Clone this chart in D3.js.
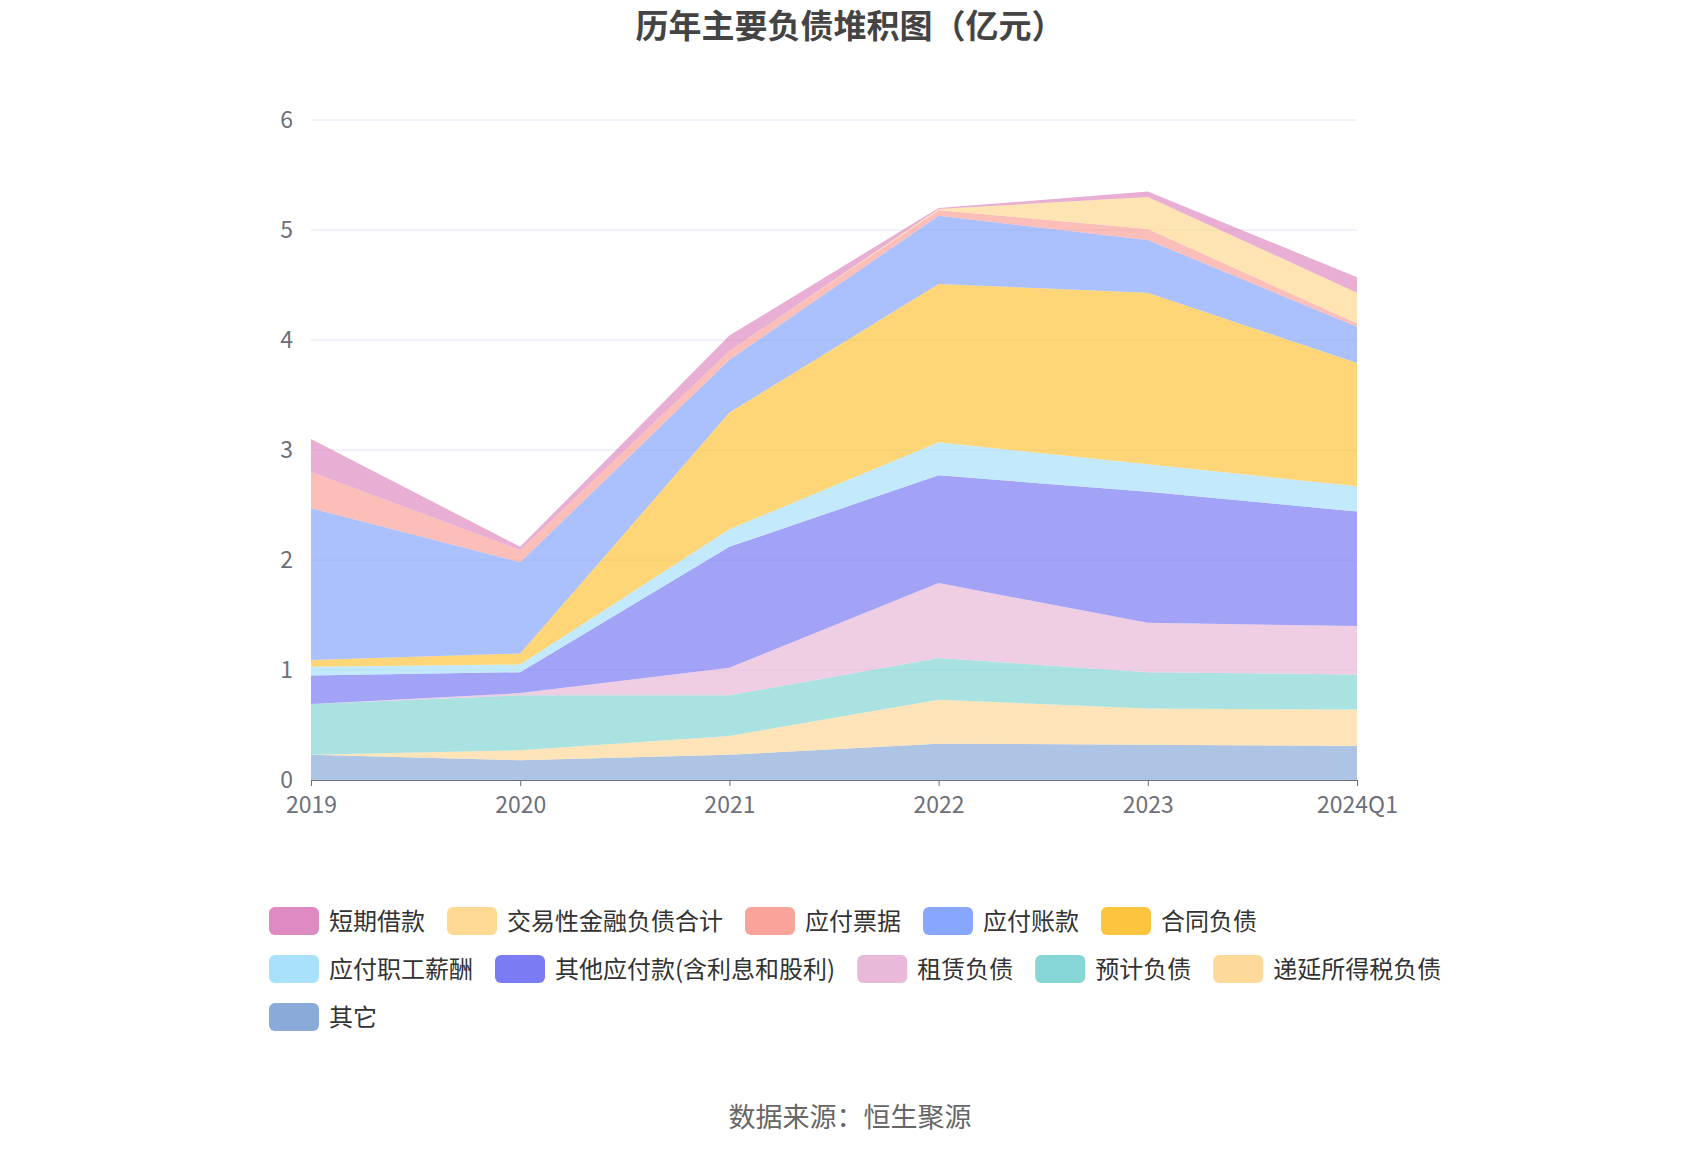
<!DOCTYPE html>
<html><head><meta charset="utf-8">
<script src="https://cdn.jsdelivr.net/npm/d3@7/dist/d3.min.js"></script>
<style>body{margin:0;background:#fff;font-family:"Noto Sans CJK SC","Noto Sans",sans-serif}</style>
</head><body><svg id="c" width="1700" height="1150"></svg>
<script>
const categories=["2019","2020","2021","2022","2023","2024Q1"];
const yTicks=[0,1,2,3,4,5,6];
const seriesNames=["短期借款","交易性金融负债合计","应付票据","应付账款","合同负债","应付职工薪酬","其他应付款(含利息和股利)","租赁负债","预计负债","递延所得税负债","其它"];
const seriesColors=["#de8bc1","#fdd993","#f9a39a","#87a6fd","#fdc43d","#a9e1fb","#7b7bf3","#e8b9d8","#86d6d6","#fdd99a","#8aabda"];
const v短期借款=[0.30,0.03,0.14,0.01,0.05,0.14];
const v交易性=[0,0,0,0.01,0.29,0.28];
const v应付票据=[0.33,0.11,0.08,0.05,0.10,0.03];
const v应付账款=[1.38,0.83,0.48,0.62,0.48,0.33];
const v合同负债=[0.06,0.10,1.06,1.44,1.56,1.12];
const v职工=[0.08,0.07,0.16,0.30,0.25,0.23];
const v其他应付=[0.26,0.19,1.10,0.98,1.19,1.04];
const v租赁=[0,0.02,0.25,0.68,0.45,0.44];
const v预计=[0.46,0.50,0.37,0.38,0.33,0.32];
const v递延=[0,0.09,0.17,0.40,0.33,0.33];
const v其它=[0.23,0.18,0.23,0.33,0.32,0.31];
const seriesValues=[v短期借款,v交易性,v应付票据,v应付账款,v合同负债,v职工,v其他应付,v租赁,v预计,v递延,v其它];

const svg=d3.select("#c");
const L=311,R=1357,T=120,B=780;
const x=d3.scalePoint().domain(categories).range([L,R]);
const y=d3.scaleLinear().domain([0,6]).range([B,T]);
svg.append("text").attr("x",850).attr("y",38).attr("text-anchor","middle").attr("font-size",33).attr("font-weight","bold").attr("fill","#444").text("历年主要负债堆积图（亿元）");
svg.append("g").selectAll("line").data(yTicks.slice(1)).join("line").attr("x1",L).attr("x2",R).attr("y1",d=>y(d)).attr("y2",d=>y(d)).attr("stroke","#e0e6f1");
svg.append("g").selectAll("text").data(yTicks).join("text").attr("x",L-18).attr("y",d=>y(d)+8).attr("text-anchor","end").attr("font-size",23).attr("fill","#6e7079").text(d=>d);
const order=d3.range(seriesNames.length).reverse();
const rows=categories.map((c,i)=>{const o={c};order.forEach(k=>o[k]=seriesValues[k][i]);return o;});
const stack=d3.stack().keys(order)(rows);
const area=d3.area().x(d=>x(d.data.c)).y0(d=>y(d[0])).y1(d=>y(d[1]));
svg.append("g").selectAll("path").data(stack).join("path").attr("d",area).attr("fill",d=>seriesColors[d.key]).attr("fill-opacity",0.7);
const ax=svg.append("g").attr("transform",`translate(0,${B})`).call(d3.axisBottom(x).tickSize(6).tickSizeOuter(0));
ax.select(".domain").attr("stroke","#6e7079");ax.selectAll("line").attr("stroke","#6e7079");
ax.selectAll("text").attr("font-size",23).attr("fill","#6e7079").attr("dy","1.05em").attr("font-family","Noto Sans CJK SC,sans-serif");
const lg=svg.append("g");let lx=269,ly=921;
seriesNames.forEach((n,i)=>{
  const g=lg.append("g");
  const t=g.append("text").attr("x",lx+60).attr("y",ly+9).attr("font-size",24).attr("fill","#333").text(n);
  const w=60+t.node().getComputedTextLength();
  if(lx+w>1450){lx=269;ly+=48;t.attr("x",lx+60).attr("y",ly+9);}
  g.append("rect").attr("x",lx).attr("y",ly-14).attr("width",50).attr("height",28).attr("rx",6).attr("fill",seriesColors[i]);
  lx+=w+22;
});
svg.append("text").attr("x",850).attr("y",1127).attr("text-anchor","middle").attr("font-size",27).attr("fill","#666").text("数据来源：恒生聚源");
</script></body></html>
